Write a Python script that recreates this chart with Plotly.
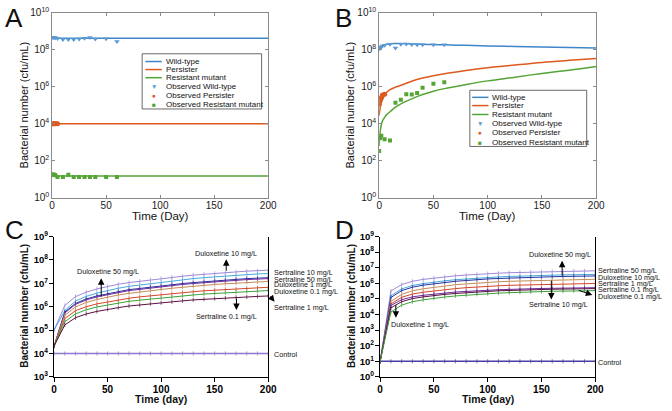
import plotly.graph_objects as go

W, H = 672, 411
FONT = "Liberation Sans, Arial, Helvetica, sans-serif"

# ======================= DATA (log10 cfu/mL) =======================
# ---- Panel A ----
a_model_days = [0, 200]
a_wild_model_log = [8.62, 8.62]
a_persister_model_log = [4.0, 4.0]
a_resistant_model_log = [1.18, 1.18]
a_obs_days = [0, 1, 2, 3, 5, 10, 15, 20, 25, 30, 35, 40, 50, 60]
a_obs_wild_log = [8.66, 8.66, 8.66, 8.65, 8.61, 8.56, 8.56, 8.56, 8.58, 8.63, 8.66, 8.58, 8.60, 8.45]
a_obs_persister_days = [0, 1, 2, 3, 4, 5]
a_obs_persister_log = [4.0, 4.0, 4.0, 4.0, 4.0, 4.0]
a_obs_resistant_log = [1.26, 1.26, 1.24, 1.22, 1.12, 1.12, 1.24, 1.12, 1.12, 1.12, 1.12, 1.12, 1.12, 1.12]

# ---- Panel B ----
b_model_days = [0, 1, 2, 3, 5, 7, 10, 15, 20, 30, 40, 50, 60, 80, 100, 125, 150, 175, 200]
b_wild_model_log = [8.05, 8.12, 8.18, 8.22, 8.27, 8.31, 8.33, 8.34, 8.34, 8.32, 8.30, 8.28, 8.27, 8.24, 8.21, 8.18, 8.15, 8.12, 8.10]
b_persister_model_log = [4.45, 4.90, 5.15, 5.30, 5.55, 5.70, 5.85, 5.98, 6.08, 6.30, 6.47, 6.60, 6.70, 6.88, 7.03, 7.18, 7.32, 7.43, 7.53]
b_resistant_model_log = [2.80, 3.60, 3.95, 4.15, 4.35, 4.50, 4.65, 4.90, 5.08, 5.35, 5.58, 5.76, 5.90, 6.12, 6.32, 6.52, 6.72, 6.90, 7.10]
b_obs_wild_days = [0, 1, 2, 3, 5, 10, 15, 20, 25, 30, 35, 40, 50, 60]
b_obs_wild_log = [8.05, 8.10, 8.17, 8.20, 8.25, 8.30, 8.10, 8.30, 8.32, 8.28, 8.27, 8.27, 8.27, 8.27]
b_obs_persister_days = [0, 1, 2, 3, 5]
b_obs_persister_log = [5.05, 5.30, 5.42, 5.55, 5.60]
b_obs_resistant_days = [0, 1, 2, 5, 10, 15, 20, 25, 30, 35, 40, 50, 60]
b_obs_resistant_log = [2.53, 3.23, 3.35, 3.17, 3.09, 5.14, 5.30, 5.60, 5.58, 5.67, 5.95, 6.16, 6.25]

# ---- Panel C ----
c_days = [0, 10, 20, 30, 40, 50, 60, 70, 80, 90, 100, 110, 120, 130, 140, 150, 160, 170, 180, 190, 200]
c_series = {
    "Sertraline 10 mg/L": [5.0, 6.05, 6.43, 6.62, 6.76, 6.87, 6.96, 7.03, 7.09, 7.15, 7.21, 7.26, 7.30, 7.35, 7.39, 7.42, 7.45, 7.49, 7.52, 7.54, 7.56],
    "Sertraline 50 mg/L": [5.0, 5.84, 6.24, 6.44, 6.58, 6.69, 6.79, 6.87, 6.93, 6.99, 7.05, 7.10, 7.15, 7.20, 7.24, 7.28, 7.31, 7.34, 7.37, 7.40, 7.42],
    "Duloxetine 10 mg/L": [4.32, 5.77, 6.14, 6.33, 6.46, 6.56, 6.65, 6.73, 6.78, 6.84, 6.90, 6.95, 6.99, 7.03, 7.07, 7.11, 7.14, 7.17, 7.20, 7.22, 7.24],
    "Duloxetine 50 mg/L": [4.32, 5.73, 6.10, 6.29, 6.42, 6.52, 6.61, 6.69, 6.74, 6.80, 6.86, 6.91, 6.95, 6.99, 7.03, 7.07, 7.10, 7.13, 7.16, 7.18, 7.20],
    "Duloxetine 1 mg/L": [4.32, 5.63, 5.99, 6.18, 6.31, 6.41, 6.50, 6.57, 6.63, 6.69, 6.74, 6.79, 6.83, 6.88, 6.91, 6.95, 6.98, 7.01, 7.04, 7.06, 7.08],
    "Duloxetine 0.1 mg/L": [4.32, 5.49, 5.83, 6.00, 6.12, 6.21, 6.29, 6.36, 6.42, 6.47, 6.52, 6.56, 6.60, 6.64, 6.68, 6.71, 6.74, 6.76, 6.79, 6.81, 6.83],
    "Sertraline 0.1 mg/L": [4.32, 5.36, 5.69, 5.87, 5.99, 6.08, 6.16, 6.23, 6.28, 6.33, 6.38, 6.42, 6.46, 6.50, 6.54, 6.57, 6.60, 6.62, 6.65, 6.67, 6.69],
    "Sertraline 1 mg/L": [4.32, 5.22, 5.53, 5.69, 5.80, 5.89, 5.96, 6.03, 6.08, 6.13, 6.17, 6.21, 6.25, 6.29, 6.32, 6.35, 6.37, 6.40, 6.42, 6.44, 6.46],
}
c_control_log = [4.0] * 21

# ---- Panel D ----
d_days = [0, 10, 20, 30, 40, 50, 60, 70, 80, 90, 100, 110, 120, 130, 140, 150, 160, 170, 180, 190, 200]
d_series = {
    "Sertraline 50 mg/L": [1.0, 5.51, 5.92, 6.13, 6.25, 6.34, 6.41, 6.48, 6.53, 6.58, 6.62, 6.65, 6.68, 6.70, 6.72, 6.74, 6.76, 6.77, 6.78, 6.79, 6.80],
    "Duloxetine 10 mg/L": [1.0, 5.20, 5.64, 5.86, 5.98, 6.08, 6.16, 6.23, 6.28, 6.34, 6.38, 6.41, 6.44, 6.47, 6.49, 6.51, 6.52, 6.54, 6.55, 6.56, 6.57],
    "Duloxetine 50 mg/L": [1.0, 5.09, 5.53, 5.75, 5.88, 5.97, 6.06, 6.13, 6.18, 6.24, 6.28, 6.31, 6.34, 6.37, 6.39, 6.41, 6.42, 6.44, 6.45, 6.46, 6.47],
    "Sertraline 10 mg/L": [1.0, 4.84, 5.29, 5.52, 5.65, 5.75, 5.83, 5.91, 5.96, 6.02, 6.06, 6.10, 6.13, 6.15, 6.18, 6.20, 6.21, 6.23, 6.24, 6.25, 6.26],
    "Sertraline 1 mg/L": [1.0, 4.68, 5.10, 5.31, 5.43, 5.52, 5.60, 5.66, 5.72, 5.77, 5.81, 5.84, 5.87, 5.89, 5.91, 5.93, 5.95, 5.96, 5.97, 5.98, 5.99],
    "Duloxetine 1 mg/L": [1.0, 4.58, 4.95, 5.13, 5.23, 5.31, 5.38, 5.44, 5.48, 5.53, 5.56, 5.59, 5.61, 5.64, 5.65, 5.67, 5.68, 5.70, 5.71, 5.71, 5.72],
    "Sertraline 0.1 mg/L": [1.0, 4.43, 4.82, 5.02, 5.13, 5.22, 5.29, 5.35, 5.40, 5.45, 5.49, 5.52, 5.54, 5.57, 5.59, 5.61, 5.62, 5.63, 5.64, 5.65, 5.66],
    "Duloxetine 0.1 mg/L": [1.0, 4.16, 4.60, 4.82, 4.94, 5.04, 5.12, 5.19, 5.24, 5.30, 5.34, 5.37, 5.40, 5.43, 5.45, 5.47, 5.49, 5.50, 5.51, 5.52, 5.53],
}
d_control_log = [1.0] * 21

prism_colors = ["#9E88D8", "#4AA8D8", "#26329C", "#6B2C9E", "#C28C58", "#D2472B", "#3E9F3B", "#5A1040"]
d_colors = ["#9E88D8", "#4AA8D8", "#26329C", "#C28C58", "#D2472B", "#6B2C9E", "#5A1040", "#3E9F3B"]

WT_C, PE_C, RM_C = "#3F86C8", "#DD5A1C", "#55A436"


def lin(arr):
    return [10 ** v for v in arr]


def px(x):
    return x / W


def py(y):
    return 1 - y / H


fig = go.Figure()

# ---- Panel A traces ----
fig.add_trace(go.Scatter(x=a_model_days, y=lin(a_wild_model_log), mode="lines", line=dict(color=WT_C, width=1.5), xaxis="x", yaxis="y", name="Wild-type"))
fig.add_trace(go.Scatter(x=a_model_days, y=lin(a_persister_model_log), mode="lines", line=dict(color=PE_C, width=1.5), xaxis="x", yaxis="y", name="Persister"))
fig.add_trace(go.Scatter(x=a_model_days, y=lin(a_resistant_model_log), mode="lines", line=dict(color=RM_C, width=1.5), xaxis="x", yaxis="y", name="Resistant mutant"))
fig.add_trace(go.Scatter(x=a_obs_days, y=lin(a_obs_wild_log), mode="markers", marker=dict(symbol="triangle-down", size=5, color="#5A9AD6"), xaxis="x", yaxis="y"))
fig.add_trace(go.Scatter(x=a_obs_persister_days, y=lin(a_obs_persister_log), mode="markers", marker=dict(symbol="circle", size=5, color=PE_C), xaxis="x", yaxis="y"))
fig.add_trace(go.Scatter(x=a_obs_days, y=lin(a_obs_resistant_log), mode="markers", marker=dict(symbol="square", size=4, color=RM_C), xaxis="x", yaxis="y"))

# ---- Panel B traces ----
fig.add_trace(go.Scatter(x=b_model_days, y=lin(b_wild_model_log), mode="lines", line=dict(color=WT_C, width=1.5, shape="spline"), xaxis="x2", yaxis="y2"))
fig.add_trace(go.Scatter(x=b_model_days, y=lin(b_persister_model_log), mode="lines", line=dict(color=PE_C, width=1.5, shape="spline"), xaxis="x2", yaxis="y2"))
fig.add_trace(go.Scatter(x=b_model_days, y=lin(b_resistant_model_log), mode="lines", line=dict(color=RM_C, width=1.5, shape="spline"), xaxis="x2", yaxis="y2"))
fig.add_trace(go.Scatter(x=b_obs_wild_days, y=lin(b_obs_wild_log), mode="markers", marker=dict(symbol="triangle-down", size=5, color="#5A9AD6"), xaxis="x2", yaxis="y2"))
fig.add_trace(go.Scatter(x=b_obs_persister_days, y=lin(b_obs_persister_log), mode="markers", marker=dict(symbol="circle", size=5, color=PE_C), xaxis="x2", yaxis="y2"))
fig.add_trace(go.Scatter(x=b_obs_resistant_days, y=lin(b_obs_resistant_log), mode="markers", marker=dict(symbol="square", size=4, color=RM_C), xaxis="x2", yaxis="y2"))

# ---- Panel C traces ----
tick_marker = dict(symbol="line-ns-open", size=3, line=dict(width=0.7, color="#444444"))
fig.add_trace(go.Scatter(x=c_days, y=lin(c_control_log), mode="lines+markers", line=dict(color="#8F78CF", width=1.5), marker=tick_marker, xaxis="x3", yaxis="y3", name="Control"))
for (name, vals), col in zip(c_series.items(), prism_colors):
    fig.add_trace(go.Scatter(x=c_days, y=lin(vals), mode="lines+markers", line=dict(color=col, width=1), marker=tick_marker, xaxis="x3", yaxis="y3", name=name))

# ---- Panel D traces ----
fig.add_trace(go.Scatter(x=d_days, y=lin(d_control_log), mode="lines+markers", line=dict(color="#4A3FA6", width=1.5), marker=tick_marker, xaxis="x4", yaxis="y4", name="Control"))
for (name, vals), col in zip(d_series.items(), d_colors):
    fig.add_trace(go.Scatter(x=d_days, y=lin(vals), mode="lines+markers", line=dict(color=col, width=1), marker=tick_marker, xaxis="x4", yaxis="y4", name=name))

# ======================= AXES =======================
AX_GREY = "#8a8a8a"


def mat_x(dom, anchor):
    return dict(domain=dom, anchor=anchor, range=[0, 200], tickmode="array", tickvals=[0, 50, 100, 150, 200],
                ticks="inside", ticklen=3, tickcolor=AX_GREY, showline=True, linecolor=AX_GREY, linewidth=0.8,
                mirror="ticks", showgrid=False, zeroline=False, ticklabelstandoff=-2,
                tickfont=dict(family=FONT, size=10, color="#1a1a1a"))


def mat_y(dom, anchor):
    vals = [0, 2, 4, 6, 8, 10]
    return dict(domain=dom, anchor=anchor, type="log", range=[0, 10], tickmode="array",
                tickvals=[10 ** v for v in vals], ticktext=["10<sup>%d</sup>" % v for v in vals],
                ticks="inside", ticklen=3, tickcolor=AX_GREY, showline=True, linecolor=AX_GREY, linewidth=0.8,
                mirror="ticks", showgrid=False, zeroline=False,
                tickfont=dict(family=FONT, size=10, color="#1a1a1a"))


def prism_x(dom, anchor):
    vals = [0, 50, 100, 150, 200]
    return dict(domain=dom, anchor=anchor, range=[0, 200], tickmode="array", tickvals=vals,
                ticktext=["<b>%d</b>" % v for v in vals], ticks="outside", ticklen=4, tickwidth=1.2,
                tickcolor="black", showline=True, linecolor="black", linewidth=1.4, showgrid=False,
                zeroline=False, ticklabelstandoff=-1, tickfont=dict(family=FONT, size=10, color="black"))


def prism_y(dom, anchor, lo, hi):
    vals = list(range(lo, hi + 1))
    return dict(domain=dom, anchor=anchor, type="log", range=[lo, hi], tickmode="array",
                tickvals=[10 ** v for v in vals], ticktext=["<b>10<sup>%d</sup></b>" % v for v in vals],
                ticks="outside", ticklen=4, tickwidth=1.2, tickcolor="black", showline=True,
                linecolor="black", linewidth=1.4, mirror=True, showgrid=False, zeroline=False,
                ticklabelstandoff=-1, tickfont=dict(family=FONT, size=9.5, color="black"))


yAB = [py(197), py(6)]
yCD = [py(382), py(237)]
fig.update_layout(
    xaxis=mat_x([px(50), px(270)], "y"),
    yaxis=mat_y(yAB, "x"),
    xaxis2=mat_x([px(383), px(604)], "y2"),
    yaxis2=mat_y(yAB, "x2"),
    xaxis3=prism_x([px(52), px(270)], "y3"),
    yaxis3=prism_y(yCD, "x3", 3, 9),
    xaxis4=prism_x([px(384), px(603)], "y4"),
    yaxis4=prism_y(yCD, "x4", 0, 9),
)

# ======================= ANNOTATIONS & LEGENDS =======================
ann = []
shapes = []


def text(x, y, s, size=8, anchor="left", bold=False, angle=0, color="#111"):
    ann.append(dict(x=px(x), y=py(y), xref="paper", yref="paper", text=("<b>%s</b>" % s) if bold else s,
                    showarrow=False, xanchor=anchor, yanchor="middle", textangle=angle,
                    font=dict(family=FONT, size=size, color=color)))


def arrow(tail, tip):
    ann.append(dict(x=px(tip[0]), y=py(tip[1]), xref="paper", yref="paper", ax=tail[0] - tip[0],
                    ay=tail[1] - tip[1], axref="pixel", ayref="pixel", text="", showarrow=True,
                    arrowhead=2, arrowsize=1.3, arrowwidth=1, arrowcolor="black", standoff=0, startstandoff=0,
                    font=dict(size=8)))


# panel letters
text(0, 11, "A", size=26)
text(336, 11, "B", size=26)
text(0, 230, "C", size=26)
text(336, 230, "D", size=26)

# A / B titles
for xc, yt in [(21, 101), (353, 101)]:
    text(xc, yt, "Bacterial number (cfu/mL)", size=11, anchor="center", angle=-90)
text(160, 216, "Time (Day)", size=11.5, anchor="center")
text(493.5, 216, "Time (Day)", size=11.5, anchor="center")

# C / D titles
text(22, 309, "Bacterial number (cfu/mL)", size=10, anchor="center", angle=-90, bold=True)
text(355, 309, "Bacterial number (cfu/mL)", size=10, anchor="center", angle=-90, bold=True)
text(161, 405, "Time (day)", size=10.5, anchor="center", bold=True)
text(493.5, 405, "Time (day)", size=10.5, anchor="center", bold=True)


# manual legends for A and B
def legend(x0, y0, x1, y1, rows, line_x0, line_x1, text_x):
    shapes.append(dict(type="rect", xref="paper", yref="paper", x0=px(x0), x1=px(x1), y0=py(y0), y1=py(y1),
                       line=dict(color="#444", width=0.8), fillcolor="white", layer="above"))
    labels = ["Wild-type", "Persister", "Resistant mutant", "Observed Wild-type", "Observed Persister",
              "Observed Resistant mutant"]
    cols = [WT_C, PE_C, RM_C, "#5A9AD6", PE_C, RM_C]
    glyphs = [None, None, None, "▼", "●", "■"]
    for lab, col, g, yy in zip(labels, cols, glyphs, rows):
        if g is None:
            shapes.append(dict(type="line", xref="paper", yref="paper", x0=px(line_x0), x1=px(line_x1),
                               y0=py(yy), y1=py(yy), line=dict(color=col, width=1.5), layer="above"))
        else:
            text((line_x0 + line_x1) / 2, yy, g, size=6.5, anchor="center", color=col)
        text(text_x, yy, lab, size=8)


legend(141.7, 48.3, 263.3, 105.3, [56.3, 64.6, 73.0, 82.0, 91.0, 100.5], 145, 161.7, 163.5)
legend(475.3, 86.0, 594.3, 144.0, [93.3, 101.8, 111.0, 120.0, 130.0, 139.7], 477.7, 494.3, 496.2)

# ---- Panel C labels ----
LS = 7.2
text(274, 274.5, "Sertraline 10 mg/L", size=LS)
text(274, 281.0, "Sertraline 50 mg/L", size=LS)
text(274, 286.8, "Duloxetine 1 mg/L", size=LS)
text(274, 293.3, "Duloxetine 0.1 mg/L", size=LS)
text(274, 310.0, "Sertraline 1 mg/L", size=LS)
text(274, 359.0, "Control", size=LS)
text(226.7, 254.5, "Duloxetine 10 mg/L", size=LS, anchor="center")
arrow((227.3, 273.5), (227.3, 260.5))
text(106.7, 273.5, "Duloxetine 50 mg/L", size=LS, anchor="center")
arrow((100, 300), (100, 280))
text(227.5, 319.5, "Sertraline 0.1 mg/L", size=LS, anchor="center")
arrow((237.7, 300), (237.7, 313))
arrow((271, 297.5), (276.5, 304.5))

# ---- Panel D labels ----
text(604, 272.3, "Sertraline 50 mg/L", size=LS)
text(604, 279.3, "Duloxetine 10 mg/L", size=LS)
text(604, 286.0, "Sertraline 1 mg/L", size=LS)
text(604, 291.7, "Sertraline 0.1 mg/L", size=LS)
text(604, 299.3, "Duloxetine 0.1 mg/L", size=LS)
text(604, 367.5, "Control", size=LS)
text(567.5, 256, "Duloxetine 50 mg/L", size=LS, anchor="center")
arrow((569.3, 278.3), (569.3, 262))
text(566, 307.7, "Sertraline 10 mg/L", size=LS, anchor="center")
arrow((558.3, 281.7), (558.3, 302))
text(425, 328.3, "Duloxetine 1 mg/L", size=LS, anchor="center")
arrow((400, 306.7), (400, 321))
arrow((585, 292.3), (600, 297.3))

fig.update_layout(
    width=W, height=H, margin=dict(l=0, r=0, t=0, b=0), showlegend=False,
    paper_bgcolor="white", plot_bgcolor="white", annotations=ann, shapes=shapes,
    font=dict(family=FONT),
)

fig.write_html("out.html", config={"displayModeBar": False},
               post_script="document.body.style.margin='0px';document.body.style.padding='0px';")
